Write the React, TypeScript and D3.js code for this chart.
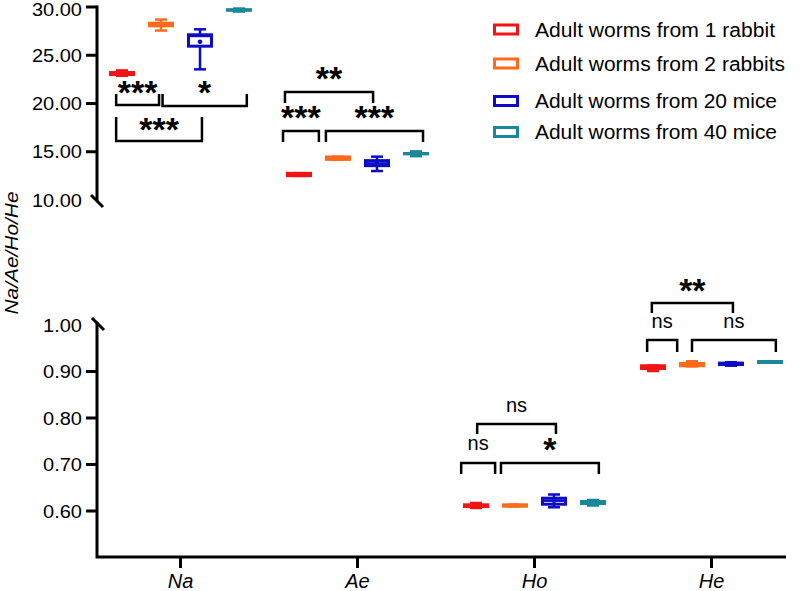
import React from 'react'
import * as d3 from 'd3'

const categories = ['Na', 'Ae', 'Ho', 'He']
const groups = [
  'Adult worms from 1 rabbit',
  'Adult worms from 2 rabbits',
  'Adult worms from 20 mice',
  'Adult worms from 40 mice',
]
const groupColors = ['#f01414', '#ff6a1a', '#0c0cc8', '#1b879b']

// [min, q1, median, q3, max, mean] for each group
const naStats = [
  [22.87, 23.0, 23.1, 23.21, 23.43, 23.12],
  [27.56, 28.05, 28.2, 28.32, 28.7, 28.2],
  [23.54, 25.94, 27.0, 27.12, 27.69, 26.4],
  [29.53, 29.66, 29.69, 29.72, 29.84, 29.69],
]
const aeStats = [
  [12.5, 12.52, 12.64, 12.76, 12.78, 12.64],
  [14.19, 14.21, 14.33, 14.46, 14.48, 14.33],
  [13.0, 13.56, 13.79, 14.08, 14.49, 13.8],
  [14.54, 14.78, 14.8, 14.82, 15.04, 14.8],
]
const hoStats = [
  [0.6065, 0.6097, 0.6115, 0.6133, 0.6172, 0.6115],
  [0.61, 0.6103, 0.6118, 0.6133, 0.6135, 0.6118],
  [0.608, 0.6146, 0.6222, 0.6275, 0.6355, 0.622],
  [0.6118, 0.6161, 0.618, 0.6204, 0.6237, 0.618],
]
const heStats = [
  [0.901, 0.9065, 0.909, 0.9123, 0.913, 0.909],
  [0.911, 0.9123, 0.915, 0.9172, 0.922, 0.915],
  [0.9125, 0.915, 0.9165, 0.918, 0.92, 0.9165],
  [0.919, 0.9194, 0.9205, 0.9215, 0.922, 0.9205],
]
const statsByCategory = [naStats, aeStats, hoStats, heStats]
const segmentOf = ['top', 'top', 'bottom', 'bottom']

const topTicks = [10, 15, 20, 25, 30]
const bottomTicks = [0.6, 0.7, 0.8, 0.9, 1.0]
const breakTicks = [10, 1.0]

// [from group, to group, bar value, leg end value, label, label centre value]
const naBrackets = [
  [-0.15, 0.95, 19.84, 20.98, '***', 21.6],
  [1.04, 3.2, 19.74, 20.98, '*', 21.6],
  [-0.15, 2.05, 16.11, 18.6, '***', 17.77],
]
const aeBrackets = [
  [-0.36, 1.9, 21.19, 20.05, '**', 23.06],
  [-0.41, 0.51, 17.15, 16.01, '***', 19.02],
  [0.69, 3.18, 17.15, 16.01, '***', 19.02],
]
const hoBrackets = [
  [0.03, 2.05, 0.7871, 0.7656, 'ns', 0.8237],
  [-0.38, 0.49, 0.7032, 0.6796, 'ns', 0.7419],
  [0.64, 3.15, 0.7032, 0.6796, '*', 0.7419],
]
const heBrackets = [
  [-0.03, 2.05, 1.0473, 1.0258, '**', 1.0839],
  [-0.15, 0.62, 0.9677, 0.9419, 'ns', 1.0043],
  [1.0, 3.15, 0.9677, 0.9419, 'ns', 1.0043],
]
const bracketsByCategory = [naBrackets, aeBrackets, hoBrackets, heBrackets]

const legendRows = [29.5, 63.5, 101, 132]
const legendWidths = [240, 250, 242, 242]

const font = 'Arial, "Liberation Sans", Helvetica, sans-serif'

// width the tick label would take in Arial at 20px
const labelWidth = (s: string) =>
  s.split('').reduce((w, ch) => w + (ch === '.' ? 0.278 : 0.556), 0) * 20

export default function App() {
  const width = 800
  const height = 591
  const axisX = 97
  const axisBottom = 557

  const x = d3.scaleBand().domain(categories).range([92, 800])
  const offset = d3.scaleLinear().domain([0, 3]).range([-58.5, 58.5])
  const yTop = d3.scaleLinear().domain([10, 30]).range([200, 7])
  const yBottom = d3.scaleLinear().domain([0.5, 1]).range([557.5, 325])
  const yFor = (i: number) => (segmentOf[i] === 'top' ? yTop : yBottom)
  const cx = (cat: string, g: number) => x(cat)! + x.bandwidth() / 2 + offset(g)

  const fmt = d3.format('.2f')
  const halfBox = 11.5
  const halfCap = 6

  return (
    <svg
      width={width}
      height={height}
      style={{ position: 'absolute', left: 0, top: 0, background: '#fff' }}
      fontFamily={font}
    >
      {/* y axis, two segments with break marks */}
      <g stroke="#000" strokeWidth={3} fill="none">
        <path d={`M${axisX},${yTop(30) - 1.5}V${yTop(10) + 1}`} />
        <path d={`M${axisX},${yBottom(1) - 3}V${axisBottom}H786`} strokeLinejoin="miter" />
        <path d={`M${axisX - 6},${yTop(10) - 5}l12,12`} />
        <path d={`M${axisX - 5},${yBottom(1) - 7}l12,12`} />
        {topTicks
          .filter((t) => !breakTicks.includes(t))
          .map((t) => (
            <line key={'tt' + t} x1={axisX - 11} x2={axisX} y1={yTop(t)} y2={yTop(t)} />
          ))}
        {bottomTicks
          .filter((t) => !breakTicks.includes(t))
          .map((t) => (
            <line key={'bt' + t} x1={axisX - 11} x2={axisX} y1={yBottom(t)} y2={yBottom(t)} />
          ))}
        {categories.map((c) => (
          <line
            key={'xt' + c}
            x1={x(c)! + x.bandwidth() / 2}
            x2={x(c)! + x.bandwidth() / 2}
            y1={axisBottom}
            y2={axisBottom + 11}
          />
        ))}
      </g>

      <g fontSize={17.5} textAnchor="end" fill="#000">
        {topTicks.map((t) => (
          <text
            key={'tl' + t}
            x={82}
            y={Math.max(yTop(t) + 6.7, 16)}
            textLength={labelWidth(fmt(t))}
            lengthAdjust="spacingAndGlyphs"
          >
            {fmt(t)}
          </text>
        ))}
        {bottomTicks.map((t) => (
          <text
            key={'bl' + t}
            x={82}
            y={yBottom(t) + 6.7}
            textLength={labelWidth(fmt(t))}
            lengthAdjust="spacingAndGlyphs"
          >
            {fmt(t)}
          </text>
        ))}
      </g>

      <g fontSize={20} fontStyle="italic" textAnchor="middle" fill="#000">
        {categories.map((c) => (
          <text key={'xl' + c} x={x(c)! + x.bandwidth() / 2} y={588}>
            {c}
          </text>
        ))}
        <text
          transform="translate(17.5,253) rotate(-90)"
          fontSize={19}
          textLength={123}
          lengthAdjust="spacingAndGlyphs"
        >
          Na/Ae/Ho/He
        </text>
      </g>

      {/* box plots */}
      {categories.map((c, ci) => {
        const y = yFor(ci)
        return (
          <g key={'box' + c}>
            {statsByCategory[ci].map(([mn, q1, med, q3, mx, mean], g) => {
              const px = cx(c, g)
              const col = groupColors[g]
              return (
                <g key={g} stroke={col}>
                  <line x1={px} x2={px} y1={y(mx)} y2={y(mn)} strokeWidth={2.5} />
                  <line x1={px - halfCap} x2={px + halfCap} y1={y(mx)} y2={y(mx)} strokeWidth={2.5} />
                  <line x1={px - halfCap} x2={px + halfCap} y1={y(mn)} y2={y(mn)} strokeWidth={2.5} />
                  <rect
                    x={px - halfBox}
                    y={y(q3)}
                    width={halfBox * 2}
                    height={Math.max(0.01, y(q1) - y(q3))}
                    fill="#fff"
                    strokeWidth={3}
                  />
                  <line x1={px - halfBox} x2={px + halfBox} y1={y(med)} y2={y(med)} strokeWidth={2.5} />
                  <circle cx={px} cy={y(mean)} r={2.3} fill={col} stroke="none" />
                </g>
              )
            })}
          </g>
        )
      })}

      {/* significance brackets */}
      {categories.map((c, ci) => {
        const y = yFor(ci)
        return (
          <g key={'br' + c}>
            {bracketsByCategory[ci].map(([g1, g2, bar, leg, label, ly], i) => {
              const x1 = cx(c, g1 as number)
              const x2 = cx(c, g2 as number)
              const isStar = (label as string).startsWith('*')
              return (
                <g key={i}>
                  <path
                    d={`M${x1},${y(leg as number)}V${y(bar as number)}H${x2}V${y(leg as number)}`}
                    fill="none"
                    stroke="#000"
                    strokeWidth={2.5}
                  />
                  <text
                    x={(x1 + x2) / 2}
                    y={y(ly as number) + (isStar ? 16 : 5)}
                    textAnchor="middle"
                    fontSize={isStar ? 34 : 20}
                    fontWeight={isStar ? 'bold' : 'normal'}
                    fill="#000"
                  >
                    {label}
                  </text>
                </g>
              )
            })}
          </g>
        )
      })}

      {/* legend */}
      <g fontSize={20} fill="#000">
        {groups.map((name, i) => (
          <g key={name} transform={`translate(0,${legendRows[i]})`}>
            <rect x={494.5} y={-4.5} width={23} height={9} fill="#fff" stroke={groupColors[i]} strokeWidth={3} />
            <text x={535} y={7} textLength={legendWidths[i]} lengthAdjust="spacingAndGlyphs">
              {name}
            </text>
          </g>
        ))}
      </g>
    </svg>
  )
}
